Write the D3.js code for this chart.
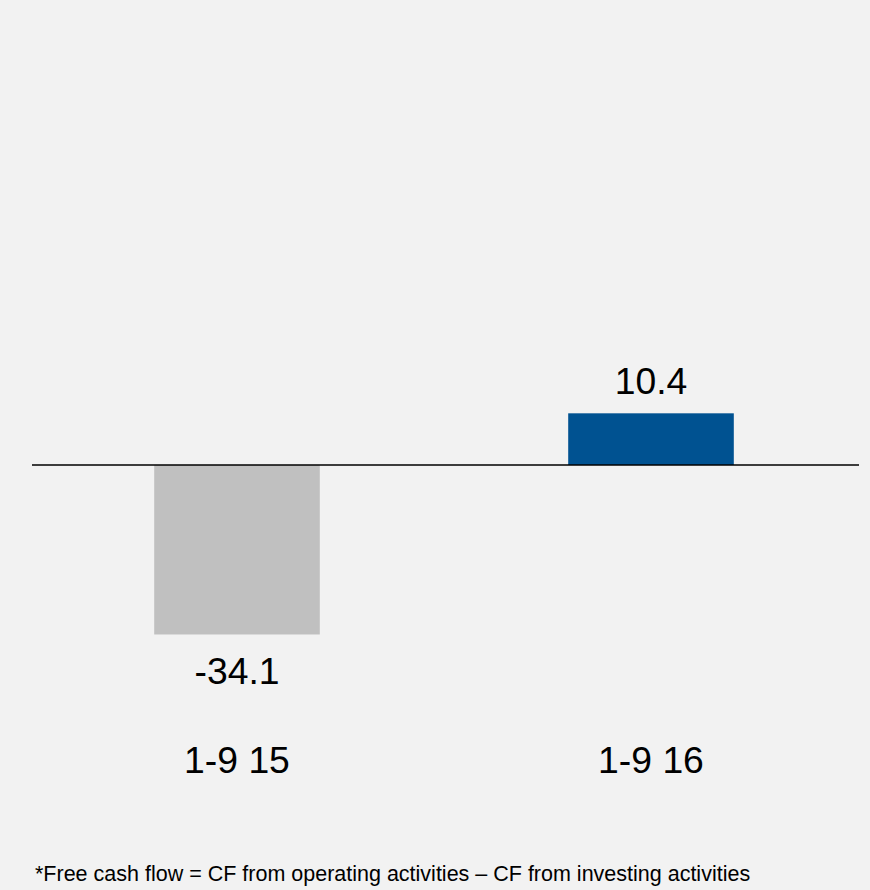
<!DOCTYPE html>
<html>
<head>
<meta charset="utf-8">
<script src="https://cdn.jsdelivr.net/npm/d3@7"></script>
<style>
  html, body { margin: 0; padding: 0; background: #f2f2f2; }
  svg { display: block; }
</style>
</head>
<body>
<script>
const categories = ["1-9 15", "1-9 16"];
const values = [-34.1, 10.4];
const valueLabels = ["-34.1", "10.4"];
const barColors = ["#c0c0c0", "#005291"];
const footnote = "*Free cash flow = CF from operating activities \u2013 CF from investing activities";

const W = 870, H = 890;
const baseline = 465, k = 4.97;

const svg = d3.select("body").append("svg")
  .attr("width", W).attr("height", H)
  .style("font-family", "'Liberation Sans', Arial, sans-serif");

svg.append("rect").attr("width", W).attr("height", H).attr("fill", "#f2f2f2");

const x = d3.scaleBand().domain(categories).range([30, 858])
  .paddingInner(0.6).paddingOuter(0.3);
const y = d3.scaleLinear().domain([-60, 60]).range([baseline + 60 * k, baseline - 60 * k]);

svg.selectAll("rect.bar").data(values).join("rect")
  .attr("class", "bar")
  .attr("x", (d, i) => x(categories[i]))
  .attr("width", x.bandwidth())
  .attr("y", d => Math.min(y(d), y(0)))
  .attr("height", d => Math.abs(y(d) - y(0)))
  .attr("fill", (d, i) => barColors[i]);

svg.append("line")
  .attr("x1", 32).attr("x2", 859)
  .attr("y1", y(0)).attr("y2", y(0))
  .attr("stroke", "#000").attr("stroke-width", 1.3);

svg.selectAll("text.val").data(values).join("text")
  .attr("class", "val")
  .attr("x", (d, i) => x(categories[i]) + x.bandwidth() / 2)
  .attr("y", d => d >= 0 ? y(d) - 19 : y(d) + 49.5)
  .attr("text-anchor", "middle")
  .attr("font-size", "37.3px")
  .attr("fill", "#000")
  .text((d, i) => valueLabels[i]);

svg.selectAll("text.cat").data(categories).join("text")
  .attr("class", "cat")
  .attr("x", d => x(d) + x.bandwidth() / 2)
  .attr("y", 773)
  .attr("text-anchor", "middle")
  .attr("font-size", "37.3px")
  .attr("fill", "#000")
  .text(d => d);

svg.append("text")
  .attr("x", 35).attr("y", 881)
  .attr("font-size", "21.5px")
  .attr("fill", "#000")
  .text(footnote);
</script>
</body>
</html>
